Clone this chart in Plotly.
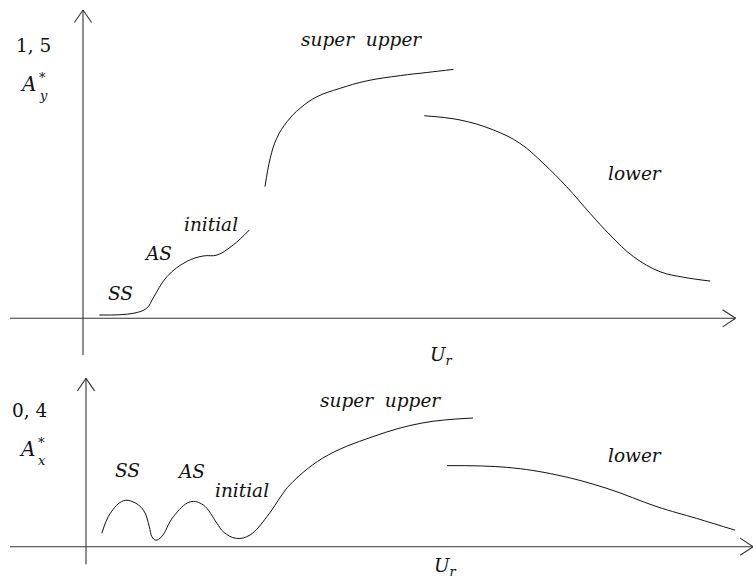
import plotly.graph_objects as go

# ---- A*_y versus U_r (upper panel) ----
ay_branch_ur = [0.25, 0.77, 0.98, 1.08, 1.29, 1.59, 1.85, 2.06, 2.31, 2.56]
ay_branch_a = [0.018, 0.027, 0.055, 0.111, 0.227, 0.309, 0.340, 0.345, 0.400, 0.482]

ay_super_ur = [2.80, 2.88, 2.98, 3.14, 3.34, 3.60, 3.95, 4.36, 4.88, 5.29, 5.70]
ay_super_a = [0.718, 0.873, 0.982, 1.073, 1.146, 1.209, 1.254, 1.295, 1.324, 1.341, 1.358]

ay_lower_ur = [5.25, 5.80, 6.31, 6.72, 7.08, 7.44, 7.80, 8.11, 8.47, 8.88, 9.24, 9.65]
ay_lower_a = [1.105, 1.082, 1.028, 0.955, 0.846, 0.718, 0.573, 0.454, 0.336, 0.254, 0.224, 0.203]

# ---- A*_x versus U_r (lower panel) ----
ax_branch_ur = [0.29, 0.42, 0.62, 0.77, 0.93, 1.02, 1.06, 1.12, 1.21, 1.39, 1.65,
                1.85, 2.06, 2.16, 2.36, 2.57, 2.83, 3.06, 3.18, 3.69, 4.46, 5.23, 6.00]
ax_branch_a = [0.039, 0.097, 0.133, 0.130, 0.106, 0.058, 0.029, 0.019, 0.029, 0.087, 0.130,
               0.121, 0.068, 0.043, 0.024, 0.034, 0.087, 0.150, 0.179, 0.257, 0.319, 0.359, 0.373]

ax_lower_ur = [5.60, 6.52, 7.29, 8.06, 8.83, 9.44, 10.03]
ax_lower_a = [0.235, 0.230, 0.208, 0.169, 0.116, 0.082, 0.048]

# Text labels: (text, U_r, value, italic, size, xanchor)
top_labels = [
    ("1, 5", -0.76, 1.491, False, 18.5, "center"),
    ("A", -0.715, 1.278, True, 20, "right"),
    ("*", -0.70, 1.316, False, 13, "left"),
    ("y", -0.70, 1.218, True, 13, "left"),
    ("super  upper", 4.29, 1.52, True, 18.5, "center"),
    ("lower", 8.49, 0.79, True, 18.5, "center"),
    ("initial", 1.97, 0.51, True, 18.5, "center"),
    ("AS", 1.16, 0.356, True, 18.5, "center"),
    ("SS", 0.58, 0.138, True, 18.5, "center"),
    ("<i>U</i><sub><i>r</i></sub>", 5.52, -0.205, False, 18.5, "center"),
]
bottom_labels = [
    ("0, 4", -0.82, 0.396, False, 18.5, "center"),
    ("A", -0.73, 0.283, True, 20, "right"),
    ("*", -0.715, 0.303, False, 13, "left"),
    ("x", -0.715, 0.251, True, 13, "left"),
    ("SS", 0.68, 0.222, True, 18.5, "center"),
    ("AS", 1.66, 0.217, True, 18.5, "center"),
    ("initial", 2.45, 0.164, True, 18.5, "center"),
    ("super  upper", 4.58, 0.425, True, 18.5, "center"),
    ("lower", 8.49, 0.263, True, 18.5, "center"),
    ("<i>U</i><sub><i>r</i></sub>", 5.58, -0.058, False, 18.5, "center"),
]

# Pixel scales of the two coordinate systems
W, H = 753, 579
XS = 65.0      # px per unit of U_r
YS1 = 183.3    # px per unit of A*_y
YS2 = 345.0    # px per unit of A*_x
X0 = 83.0      # px position of U_r = 0
TOP_DOM = [0.38, 1.0]
BOT_DOM = [0.0, 0.38]

top_h = (TOP_DOM[1] - TOP_DOM[0]) * H
bot_h = (BOT_DOM[1] - BOT_DOM[0]) * H
top_zero = H - 318.3           # px from bottom of figure
bot_zero = H - 546.7

x_range = [-X0 / XS, (W - X0) / XS]
y1_lo = -(top_zero - TOP_DOM[0] * H) / YS1
y1_range = [y1_lo, y1_lo + top_h / YS1]
y2_lo = -(bot_zero - BOT_DOM[0] * H) / YS2
y2_range = [y2_lo, y2_lo + bot_h / YS2]

LINE = dict(color="#111111", width=1.0, shape="spline", smoothing=1.1)

fig = go.Figure()
for xs, ys in [(ay_branch_ur, ay_branch_a), (ay_super_ur, ay_super_a), (ay_lower_ur, ay_lower_a)]:
    fig.add_trace(go.Scatter(x=xs, y=ys, mode="lines", line=LINE, xaxis="x", yaxis="y",
                             hoverinfo="skip", showlegend=False))
for xs, ys in [(ax_branch_ur, ax_branch_a), (ax_lower_ur, ax_lower_a)]:
    fig.add_trace(go.Scatter(x=xs, y=ys, mode="lines", line=LINE, xaxis="x", yaxis="y2",
                             hoverinfo="skip", showlegend=False))

AXC = "#333333"
shapes = []


def seg(x0, y0, x1, y1, yref):
    shapes.append(dict(type="line", xref="x", yref=yref, x0=x0, y0=y0, x1=x1, y1=y1,
                       line=dict(color=AXC, width=1.1)))


def arrow_up(x, y_tip, yref, ys):
    dx, dy = 8.6 / XS, 12.5 / ys
    seg(x - dx, y_tip - dy, x, y_tip, yref)
    seg(x + dx, y_tip - dy, x, y_tip, yref)


def arrow_right(x_tip, y, yref, ys):
    dx, dy = 13.0 / XS, 8.6 / ys
    seg(x_tip - dx, y - dy, x_tip, y, yref)
    seg(x_tip - dx, y + dy, x_tip, y, yref)


# Upper panel axes
seg(0, -0.20, 0, 1.682, "y")
arrow_up(0, 1.682, "y", YS1)
seg(-1.123, 0, 10.04, 0, "y")
arrow_right(10.04, 0, "y", YS1)

# Lower panel axes
bx = 3.0 / XS
seg(bx, -0.051, bx, 0.488, "y2")
arrow_up(bx, 0.488, "y2", YS2)
seg(-1.123, 0, 10.31, 0, "y2")
arrow_right(10.31, 0, "y2", YS2)

SERIF = "DejaVu Serif"
annotations = []
for labels, yref in [(top_labels, "y"), (bottom_labels, "y2")]:
    for text, ux, val, italic, size, xa in labels:
        annotations.append(dict(
            text=f"<i>{text}</i>" if italic else text,
            x=ux, y=val, xref="x", yref=yref, showarrow=False,
            xanchor=xa, yanchor="middle", borderpad=0,
            font=dict(family=SERIF, size=size, color="#111111"),
        ))

fig.update_layout(
    width=W, height=H,
    margin=dict(l=0, r=0, t=0, b=0),
    font=dict(family=SERIF, size=18, color="#111111"),
    paper_bgcolor="white", plot_bgcolor="white",
    xaxis=dict(range=x_range, visible=False, domain=[0, 1], anchor="y"),
    yaxis=dict(range=y1_range, visible=False, domain=TOP_DOM, anchor="x"),
    yaxis2=dict(range=y2_range, visible=False, domain=BOT_DOM, anchor="x"),
    shapes=shapes,
    annotations=annotations,
    showlegend=False,
)

fig.write_html("out.html")
